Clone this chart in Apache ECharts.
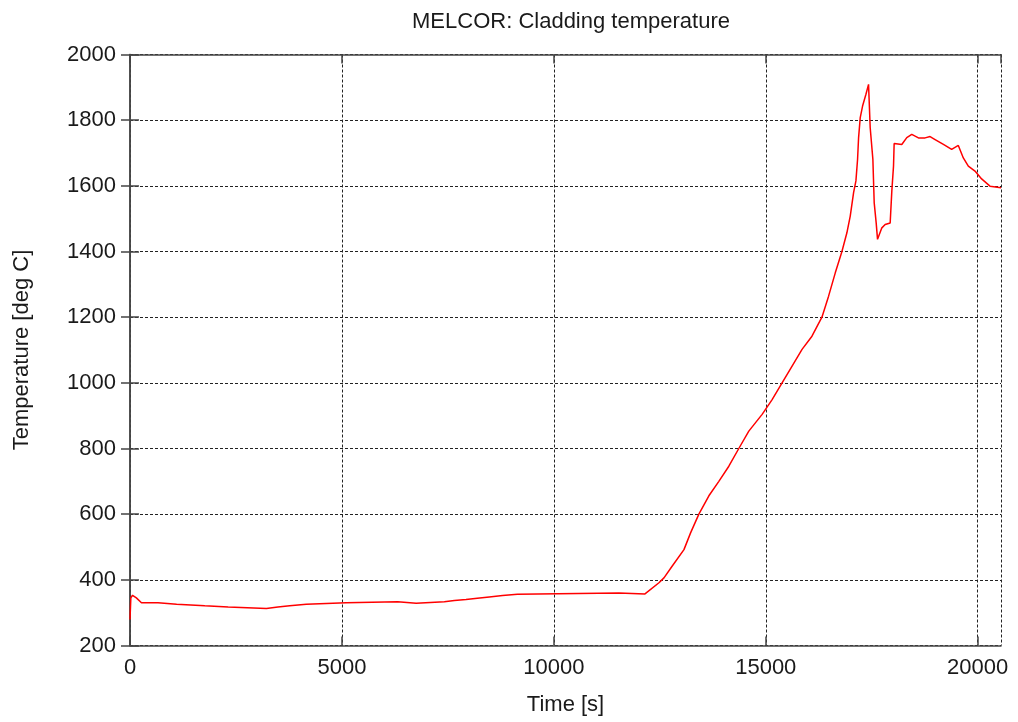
<!DOCTYPE html>
<html>
<head>
<meta charset="utf-8">
<script src="https://cdn.jsdelivr.net/npm/echarts@6/dist/echarts.min.js"></script>
<style>
html,body{margin:0;padding:0;background:#fff;}
#c{width:1018px;height:722px;}
</style>
</head>
<body>
<div id="c"></div>
<script>
const titleText = "MELCOR: Cladding temperature";
const xName = "Time [s]";
const yName = "Temperature [deg C]";
const timeS = [0,20,60,150,270,660,670,1100,1110,1765,1775,2316,2330,3218,3230,3490,3500,3768,3780,4160,4170,5100,5110,6316,6330,6751,6760,7417,7430,7653,7660,7928,7935,8195,8200,8477,8480,8791,8800,9140,9150,11536,11550,12150,12480,12598,12794,13070,13226,13422,13658,13893,14129,14364,14600,14914,15150,15385,15621,15856,16090,16325,16482,16640,16797,16914,16993,17072,17127,17166,17190,17229,17284,17362,17425,17464,17527,17558,17605,17637,17739,17817,17935,17974,18014,18029,18209,18327,18445,18602,18759,18877,18995,19191,19386,19543,19661,19779,19936,20093,20290,20550];
const tempC = [279,345,353,345,330,330,326,326,321,321,317,317,313,313,317,317,321,321,326,326,330,330,333,333,329,329,333,333,337,337,340,340,344,344,348,348,352,352,356,356,360,360,357,357,391,406,442,492,543,600,656,700,746,800,853,904,949,1000,1051,1102,1142,1200,1264,1335,1400,1457,1508,1579,1615,1681,1747,1808,1843,1878,1909,1777,1681,1549,1487,1437,1472,1482,1487,1584,1660,1729,1726,1747,1757,1746,1746,1750,1741,1726,1711,1723,1685,1660,1645,1621,1599,1594];

const xMin = 0, xMax = 20550, xStep = 5000;
const yMin = 200, yMax = 2000, yStep = 200;

const series = timeS.map((t,i)=>[t,tempC[i]]);
const font = "'Liberation Sans', Arial, sans-serif";
const axisCol = '#444';
const txtCol = '#1a1a1a';
const gridLine = {show:true, lineStyle:{color:'#222', type:[3,2], width:1}};
const plain = v => String(v);

const chart = echarts.init(document.getElementById('c'), null, {renderer:'canvas'});
chart.setOption({
  animation:false,
  backgroundColor:'#fff',
  title:{text:titleText, left:566, textAlign:'center', top:6,
    textStyle:{fontFamily:font, fontSize:22, fontWeight:'normal', color:txtCol}},
  grid:{left:130, right:17, top:54.5, bottom:76.5, containLabel:false},
  xAxis:[{
    type:'value', min:xMin, max:xMax, interval:xStep, position:'bottom',
    name:xName, nameLocation:'middle', nameGap:48,
    nameTextStyle:{fontFamily:font, fontSize:22, color:txtCol},
    axisLine:{show:true, lineStyle:{color:axisCol, width:1.5}},
    axisTick:{show:true, inside:true, length:9, lineStyle:{color:axisCol, width:1.5}},
    axisLabel:{fontFamily:font, fontSize:22, color:txtCol, margin:11, showMaxLabel:false, formatter:plain},
    splitLine:gridLine
  },{
    type:'value', min:xMin, max:xMax, interval:xStep, position:'top',
    axisLine:{show:true, lineStyle:{color:axisCol, width:1.5}},
    axisTick:{show:true, inside:true, length:9, lineStyle:{color:axisCol, width:1.5}},
    axisLabel:{show:false}, splitLine:{show:false}
  }],
  yAxis:[{
    type:'value', min:yMin, max:yMax, interval:yStep, position:'left',
    name:yName, nameLocation:'middle', nameGap:97,
    nameTextStyle:{fontFamily:font, fontSize:22, color:txtCol},
    axisLine:{show:true, lineStyle:{color:axisCol, width:1.5}},
    axisTick:{show:true, inside:true, length:9, lineStyle:{color:axisCol, width:1.5}},
    axisLabel:{fontFamily:font, fontSize:22, color:txtCol, margin:14, formatter:plain},
    splitLine:gridLine
  },{
    type:'value', min:yMin, max:yMax, interval:yStep, position:'right',
    axisLine:{show:true, lineStyle:{color:axisCol, width:1.5}},
    axisTick:{show:true, inside:true, length:9, lineStyle:{color:axisCol, width:1.5}},
    axisLabel:{show:false}, splitLine:{show:false}
  }],
  series:[{
    type:'line', data:series, xAxisIndex:0, yAxisIndex:0,
    showSymbol:false, symbol:'none',
    lineStyle:{color:'#ff0000', width:1.5}, z:5
  }]
});
</script>
</body>
</html>
